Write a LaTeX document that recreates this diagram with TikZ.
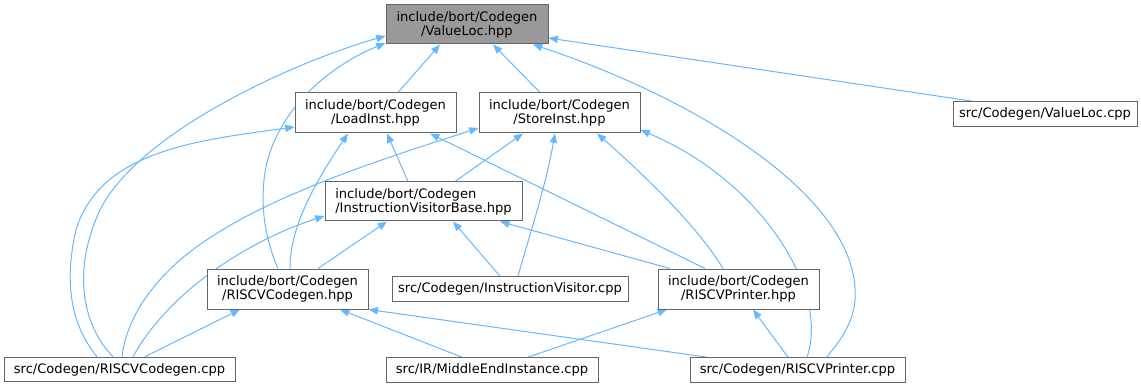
\documentclass[tikz,border=0pt]{standalone}
\usepackage{fontspec}
\setmainfont{DejaVu Sans}
\usetikzlibrary{arrows.meta,backgrounds}
\definecolor{edgeblue}{RGB}{99,184,255}
\definecolor{boxline}{RGB}{102,102,102}
\definecolor{boxgray}{RGB}{153,153,153}

\begin{document}
\begin{tikzpicture}[x=0.75pt,y=0.75pt,yscale=-1,xscale=1,
  file/.style={draw=boxline, fill=white, line width=0.75pt, inner sep=0pt,
    align=center, font=\fontsize{9.8}{10.5}\selectfont},
  header/.style={file, minimum width=120.75pt, minimum height=30pt},
  source/.style={file, minimum height=18.5pt},
  dep/.style={draw=edgeblue, line width=0.75pt, {Triangle[length=7pt,width=5.5pt]}-}]
\useasboundingbox (0,0) rectangle (1141,388);

% Headers
\node [header, fill=boxgray, minimum width=121.5pt, minimum height=29.25pt] (v) at (467,24.5) {include/bort/Codegen\\/ValueLoc.hpp};
\node [header] (l) at (375.5,113) {include/bort/Codegen\\/LoadInst.hpp};
\node [header] (s) at (559.5,113) {include/bort/Codegen\\/StoreInst.hpp};
\node [header, align=left, minimum width=147.75pt, minimum height=29.25pt] (ivb) at (423.5,201.5) {include/bort/Codegen\\/InstructionVisitorBase.hpp};
\node [header] (rchpp) at (287.5,289) {include/bort/Codegen\\/RISCVCodegen.hpp};
\node [header] (rphpp) at (738.5,289) {include/bort/Codegen\\/RISCVPrinter.hpp};

% Sources
\node [source, minimum width=138pt] (vcpp) at (1045,114) {src/Codegen/ValueLoc.cpp};
\node [source, minimum width=177pt] (ivcpp) at (510,289) {src/Codegen/InstructionVisitor.cpp};
\node [source, minimum width=173.25pt] (rccpp) at (119.5,369.5) {src/Codegen/RISCVCodegen.cpp};
\node [source, minimum width=159pt] (mei) at (492,370) {src/IR/MiddleEndInstance.cpp};
\node [source, minimum width=161.25pt] (rpcpp) at (797.5,370) {src/Codegen/RISCVPrinter.cpp};

\begin{scope}[on background layer]
% ValueLoc.hpp
\draw [dep] (v.south -| 440,0) -- (l.north -| 398,0);
\draw [dep] (v.south -| 493,0) -- (s.north -| 540,0);
\draw [dep] (v.east |- 0,38) -- (vcpp.north -| 972,0);
\draw [dep] (v.south -| 533,0) .. controls (700,100) and (862,200) .. (855,300) .. controls (852,330) and (835,345) .. (rpcpp.north -| 827,0);
\draw [dep] (v.west |- 0,36) .. controls (300,60) and (140,130) .. (100,210) .. controls (72,270) and (82,325) .. (rccpp.north -| 113,0);
\draw [dep] (v.west |- 0,43) .. controls (320,70) and (270,120) .. (264,180) .. controls (260,220) and (270,250) .. (rchpp.north -| 278,0);
% LoadInst.hpp
\draw [dep] (l.west |- 0,127) .. controls (200,140) and (100,150) .. (76,230) .. controls (62,290) and (75,330) .. (rccpp.north -| 97,0);
\draw [dep] (l.south -| 348,0) .. controls (310,190) and (290,230) .. (rchpp.north -| 290,0);
\draw [dep] (l.south -| 387,0) -- (ivb.north -| 408,0);
\draw [dep] (l.south -| 430,0) -- (rphpp.north -| 705,0);
% StoreInst.hpp
\draw [dep] (s.west |- 0,128) .. controls (380,160) and (250,200) .. (180,260) .. controls (140,295) and (125,330) .. (rccpp.north -| 122,0);
\draw [dep] (s.south -| 523,0) -- (ivb.north -| 455,0);
\draw [dep] (s.south -| 555,0) .. controls (545,190) and (525,250) .. (ivcpp.north -| 518,0);
\draw [dep] (s.south -| 597,0) .. controls (650,180) and (700,230) .. (rphpp.north -| 723,0);
\draw [dep] (s.east |- 0,130) .. controls (760,180) and (830,290) .. (rpcpp.north -| 807,0);
% InstructionVisitorBase.hpp
\draw [dep] (ivb.west |- 0,216) .. controls (250,240) and (170,290) .. (rccpp.north -| 133,0);
\draw [dep] (ivb.south -| 387,0) -- (rchpp.north -| 318,0);
\draw [dep] (ivb.south -| 453,0) -- (ivcpp.north -| 500,0);
\draw [dep] (ivb.south -| 500,0) -- (rphpp.north -| 670,0);
% RISCVCodegen.hpp
\draw [dep] (rchpp.south -| 240,0) -- (rccpp.north -| 145,0);
\draw [dep] (rchpp.south -| 340,0) -- (mei.north -| 462,0);
\draw [dep] (rchpp.south east) -- (rpcpp.north -| 707,0);
% RISCVPrinter.hpp
\draw [dep] (rphpp.south -| 667,0) -- (mei.north -| 528,0);
\draw [dep] (rphpp.south -| 753,0) -- (rpcpp.north -| 788,0);
\end{scope}
\end{tikzpicture}
\end{document}
